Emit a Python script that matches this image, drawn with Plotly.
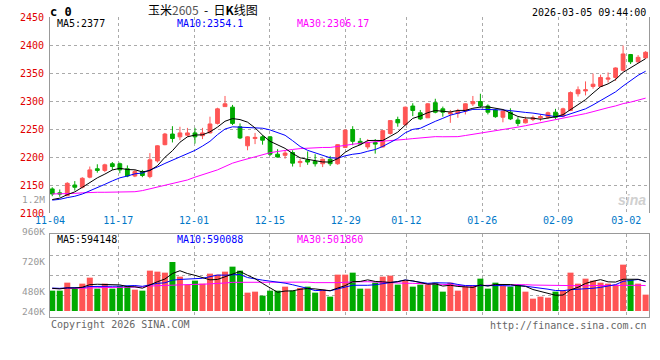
import plotly.graph_objects as go

# ---------------- data ----------------
dates = [
    "11-04", "11-05", "11-06", "11-07", "11-10", "11-11", "11-12", "11-13", "11-14",
    "11-17", "11-18", "11-19", "11-20", "11-21", "11-24", "11-25", "11-26", "11-27", "11-28",
    "12-01", "12-02", "12-03", "12-04", "12-05", "12-08", "12-09", "12-10", "12-11", "12-12",
    "12-15", "12-16", "12-17", "12-18", "12-19", "12-22", "12-23", "12-24", "12-25", "12-26",
    "12-29", "12-30", "12-31", "01-05", "01-06", "01-07", "01-08", "01-09",
    "01-12", "01-13", "01-14", "01-15", "01-16", "01-19", "01-20", "01-21", "01-22", "01-23",
    "01-26", "01-27", "01-28", "01-29", "01-30", "02-02", "02-03", "02-04", "02-05", "02-06",
    "02-09", "02-10", "02-11", "02-12", "02-13", "02-24", "02-25", "02-26", "02-27",
    "03-02", "03-03", "03-04", "03-05",
]
tick_labels = ["11-04", "11-17", "12-01", "12-15", "12-29", "01-12", "01-26", "02-09", "03-02"]

opens = [2143, 2136, 2131, 2150, 2146, 2164, 2179, 2176, 2188, 2188,
         2179, 2166, 2174, 2165, 2193, 2222, 2241, 2236, 2239, 2243,
         2238, 2243, 2260, 2290, 2289, 2254, 2220, 2233, 2236, 2236,
         2205, 2203, 2208, 2190, 2195, 2192, 2188, 2196, 2188, 2217,
         2249, 2228, 2218, 2226, 2218, 2242, 2267, 2258, 2291, 2279,
         2270, 2297, 2286, 2277, 2278, 2282, 2295, 2299, 2291, 2284,
         2271, 2280, 2266, 2261, 2267, 2270, 2271, 2280, 2273, 2283,
         2313, 2318, 2326, 2326, 2339, 2342, 2355, 2383, 2370, 2377]
highs = [2146, 2142, 2155, 2157, 2164, 2183, 2187, 2188, 2191, 2190,
         2185, 2177, 2177, 2207, 2221, 2243, 2255, 2254, 2252, 2252,
         2252, 2272, 2288, 2309, 2293, 2260, 2237, 2243, 2239, 2237,
         2214, 2211, 2212, 2197, 2210, 2205, 2197, 2202, 2223, 2249,
         2255, 2234, 2232, 2232, 2248, 2266, 2272, 2290, 2296, 2284,
         2296, 2304, 2290, 2284, 2286, 2296, 2309, 2313, 2294, 2286,
         2284, 2287, 2271, 2272, 2274, 2276, 2281, 2286, 2288, 2317,
         2326, 2335, 2349, 2347, 2351, 2360, 2399, 2384, 2382, 2389]
lows = [2130, 2129, 2130, 2140, 2144, 2162, 2172, 2173, 2177, 2171,
        2164, 2164, 2164, 2162, 2190, 2221, 2226, 2230, 2236, 2224,
        2232, 2242, 2258, 2290, 2257, 2232, 2212, 2223, 2222, 2202,
        2199, 2197, 2183, 2182, 2186, 2183, 2182, 2184, 2186, 2216,
        2221, 2221, 2214, 2206, 2217, 2240, 2254, 2256, 2273, 2266,
        2270, 2278, 2272, 2261, 2270, 2276, 2291, 2288, 2276, 2270,
        2262, 2266, 2255, 2260, 2264, 2264, 2268, 2268, 2271, 2282,
        2308, 2310, 2322, 2325, 2333, 2336, 2353, 2366, 2368, 2376]
closes = [2134, 2134, 2153, 2146, 2162, 2177, 2176, 2186, 2183, 2177,
          2166, 2174, 2167, 2195, 2220, 2241, 2233, 2243, 2243, 2236,
          2243, 2259, 2286, 2295, 2260, 2234, 2236, 2235, 2230, 2205,
          2200, 2207, 2189, 2192, 2191, 2188, 2196, 2188, 2222, 2248,
          2228, 2223, 2226, 2223, 2247, 2265, 2261, 2289, 2283, 2268,
          2295, 2280, 2280, 2279, 2282, 2295, 2299, 2291, 2280, 2272,
          2282, 2268, 2260, 2267, 2270, 2272, 2279, 2271, 2286, 2315,
          2320, 2320, 2330, 2342, 2341, 2359, 2384, 2370, 2378, 2387]

volumes = [407000, 407000, 567000, 447000, 547000, 667000, 447000, 547000, 447000, 500000,
           500000, 427000, 407000, 807000, 787000, 767000, 980000, 687000, 527000, 607000,
           547000, 747000, 727000, 787000, 887000, 807000, 367000, 387000, 307000, 407000,
           407000, 487000, 407000, 460000, 487000, 367000, 427000, 287000, 727000, 727000,
           767000, 447000, 447000, 567000, 687000, 707000, 527000, 607000, 487000, 527000,
           527000, 567000, 387000, 567000, 407000, 487000, 507000, 647000, 447000, 567000,
           500000, 487000, 527000, 387000, 247000, 287000, 267000, 387000, 407000, 767000,
           547000, 647000, 607000, 567000, 547000, 527000, 927000, 627000, 547000, 327000]

# moving-average values shown before enough history is on screen
ma5_head = [2124, 2126.5, 2132.8, 2137.7]
ma10_head = [2123, 2124.4, 2127.5, 2129.9, 2133.9, 2139.4, 2144.8, 2151.2, 2157.3]
ma30_head = [2134, 2134, 2134, 2135, 2136, 2137, 2137, 2137, 2137, 2137,
             2138, 2138, 2140, 2143, 2146, 2149, 2152, 2156, 2159, 2164,
             2168, 2172, 2177, 2183, 2189, 2193, 2197, 2200, 2204]
vma5_head = [453000, 442000, 462000, 459000]
vma10_head = [459000, 453000, 464000, 462000, 470000, 490000, 488000, 497000, 495000]
vma30_head = [447000, 447000, 447000, 447000, 450000, 460000, 467000, 470000, 470000, 470000,
              473000, 473000, 480000, 500000, 507000, 515000, 527000, 530000, 533000, 533000,
              535000, 540000, 550000, 560000, 573000, 573000, 575000, 577000, 578000]


def moving_average(vals, n, head):
    out = []
    for i in range(len(vals)):
        if i >= n - 1:
            out.append(sum(vals[i - n + 1:i + 1]) / n)
        else:
            out.append(head[i])
    return out


x = list(range(len(dates)))
ma5 = moving_average(closes, 5, ma5_head)
ma10 = moving_average(closes, 10, ma10_head)
ma30 = moving_average(closes, 30, ma30_head)
vma5 = moving_average(volumes, 5, vma5_head)
vma10 = moving_average(volumes, 10, vma10_head)
vma30 = moving_average(volumes, 30, vma30_head)

RED = "#ff5555"
GREEN = "#00aa00"
GRID = "#aaaaaa"
AXIS = "#999999"
MONO = "DejaVu Sans Mono, monospace"

vol_colors = [RED if c >= o else GREEN for o, c in zip(opens, closes)]

# ---------------- geometry ----------------
W, H = 660, 360
L, R, T, B = 50, 11, 17, 43
PW, PH = W - L - R, H - T - B
MAIN_BOTTOM_PX = 213
VOL_TOP_PX = 234


def py(p):  # pixel row -> paper y
    return (H - B - p) / PH


def px(p):  # pixel col -> paper x
    return (p - L) / PW


x_range = [-0.3, 79.45]
n = len(dates)
step = (x_range[1] - x_range[0]) / (n - 1)
tick_pos = [x_range[0] + dates.index(d) * step for d in tick_labels]

fig = go.Figure()

fig.add_trace(go.Candlestick(
    x=x, open=opens, high=highs, low=lows, close=closes,
    increasing=dict(line=dict(color=RED, width=1), fillcolor=RED),
    decreasing=dict(line=dict(color=GREEN, width=1), fillcolor=GREEN),
    xaxis="x", yaxis="y", hoverinfo="skip", showlegend=False,
))
for vals, col in [(ma30, "#ff00ff"), (ma10, "#0000ff"), (ma5, "#000000")]:
    fig.add_trace(go.Scatter(x=x, y=vals, mode="lines", line=dict(color=col, width=1),
                             xaxis="x", yaxis="y", hoverinfo="skip", showlegend=False))

fig.add_trace(go.Bar(x=x, y=volumes, marker=dict(color=vol_colors, line=dict(width=0)),
                     width=0.8, xaxis="x2", yaxis="y2", hoverinfo="skip", showlegend=False))
for vals, col in [(vma30, "#ff00ff"), (vma10, "#0000ff"), (vma5, "#000000")]:
    fig.add_trace(go.Scatter(x=x, y=vals, mode="lines", line=dict(color=col, width=1),
                             xaxis="x2", yaxis="y2", hoverinfo="skip", showlegend=False))

main_ticks = [2100, 2150, 2200, 2250, 2300, 2350, 2400, 2450]
vol_grid = [306000, 710000, 1114000]

fig.update_layout(
    width=W, height=H,
    margin=dict(l=L, r=R, t=T, b=B),
    paper_bgcolor="white", plot_bgcolor="white",
    boxgap=0.28,
    showlegend=False,
    hovermode=False,
    xaxis=dict(domain=[0, 1], range=x_range, anchor="y",
               tickvals=tick_pos, ticktext=tick_labels,
               tickfont=dict(family=MONO, size=10, color="#0078c8"),
               showgrid=True, gridcolor=GRID, griddash="dot", gridwidth=1,
               showline=False, zeroline=False, ticks="",
               rangeslider=dict(visible=False), fixedrange=True),
    yaxis=dict(domain=[py(MAIN_BOTTOM_PX), 1], range=[2100, 2450], anchor="x",
               tickvals=main_ticks, ticktext=[str(v) for v in main_ticks],
               tickfont=dict(family=MONO, size=10, color="#e00000"),
               showgrid=True, gridcolor=GRID, griddash="dot", gridwidth=1,
               showline=True, linecolor=AXIS, linewidth=1, mirror=True,
               zeroline=False, ticks="", ticklabelstandoff=3, fixedrange=True),
    xaxis2=dict(domain=[0, 1], range=x_range, anchor="y2", matches="x",
                tickvals=tick_pos, showticklabels=False,
                showgrid=True, gridcolor=GRID, griddash="dot", gridwidth=1,
                showline=True, linecolor=AXIS, linewidth=1, mirror=True,
                zeroline=False, ticks=""),
    yaxis2=dict(domain=[0, py(VOL_TOP_PX)], range=[-120000, 1540000], anchor="x2",
                tickvals=vol_grid, showticklabels=False,
                showgrid=True, gridcolor=GRID, griddash="dot", gridwidth=1,
                showline=True, linecolor=AXIS, linewidth=1, mirror=True,
                zeroline=False, ticks="", fixedrange=True),
)

ann = []


def text(t, xp, yp, color="#000", size=10, anchor="left", family=MONO):
    ann.append(dict(text=t, x=px(xp), y=py(yp), xref="paper", yref="paper",
                    xanchor=anchor, yanchor="middle", showarrow=False,
                    font=dict(family=family, size=size, color=color)))


text("<b>c 0</b>", 48, 12, size=12)
text("玉米<span style='color:#555'>2605</span>&nbsp;&nbsp;-&nbsp;&nbsp;日<b>K</b>线图", 203, 10, size=12,
     anchor="center", family="Noto Sans CJK SC, sans-serif")
text("2026-03-05 09:44:00", 648, 12, anchor="right")

text("MA5:2377", 55, 24)
text("MA10:2354.1", 175, 24, color="#0000ff")
text("MA30:2306.17", 295, 24, color="#ff00ff")

text("MA5:594148", 55, 239)
text("MA10:590088", 175, 239, color="#0000ff")
text("MA30:501860", 295, 239, color="#ff00ff")

for lab, yy in [("1.2M", 199), ("960K", 231), ("720K", 261), ("480K", 291), ("240K", 311)]:
    text(lab, 47, yy, color="#999999", anchor="right", size=9.5)

text("Copyright 2026 SINA.COM", 49, 324, color="#666666")
text("http://finance.sina.com.cn", 649, 325, color="#666666", anchor="right")
text("<b><i>sina</i></b>", 648, 200, color="#d0d0d0", size=14, anchor="right",
     family="Liberation Sans, sans-serif")

fig.update_layout(annotations=ann)

fig.write_html("out.html", config={"displayModeBar": False, "staticPlot": True},
               post_script="document.body.style.margin='0';document.body.style.overflow='hidden';")
